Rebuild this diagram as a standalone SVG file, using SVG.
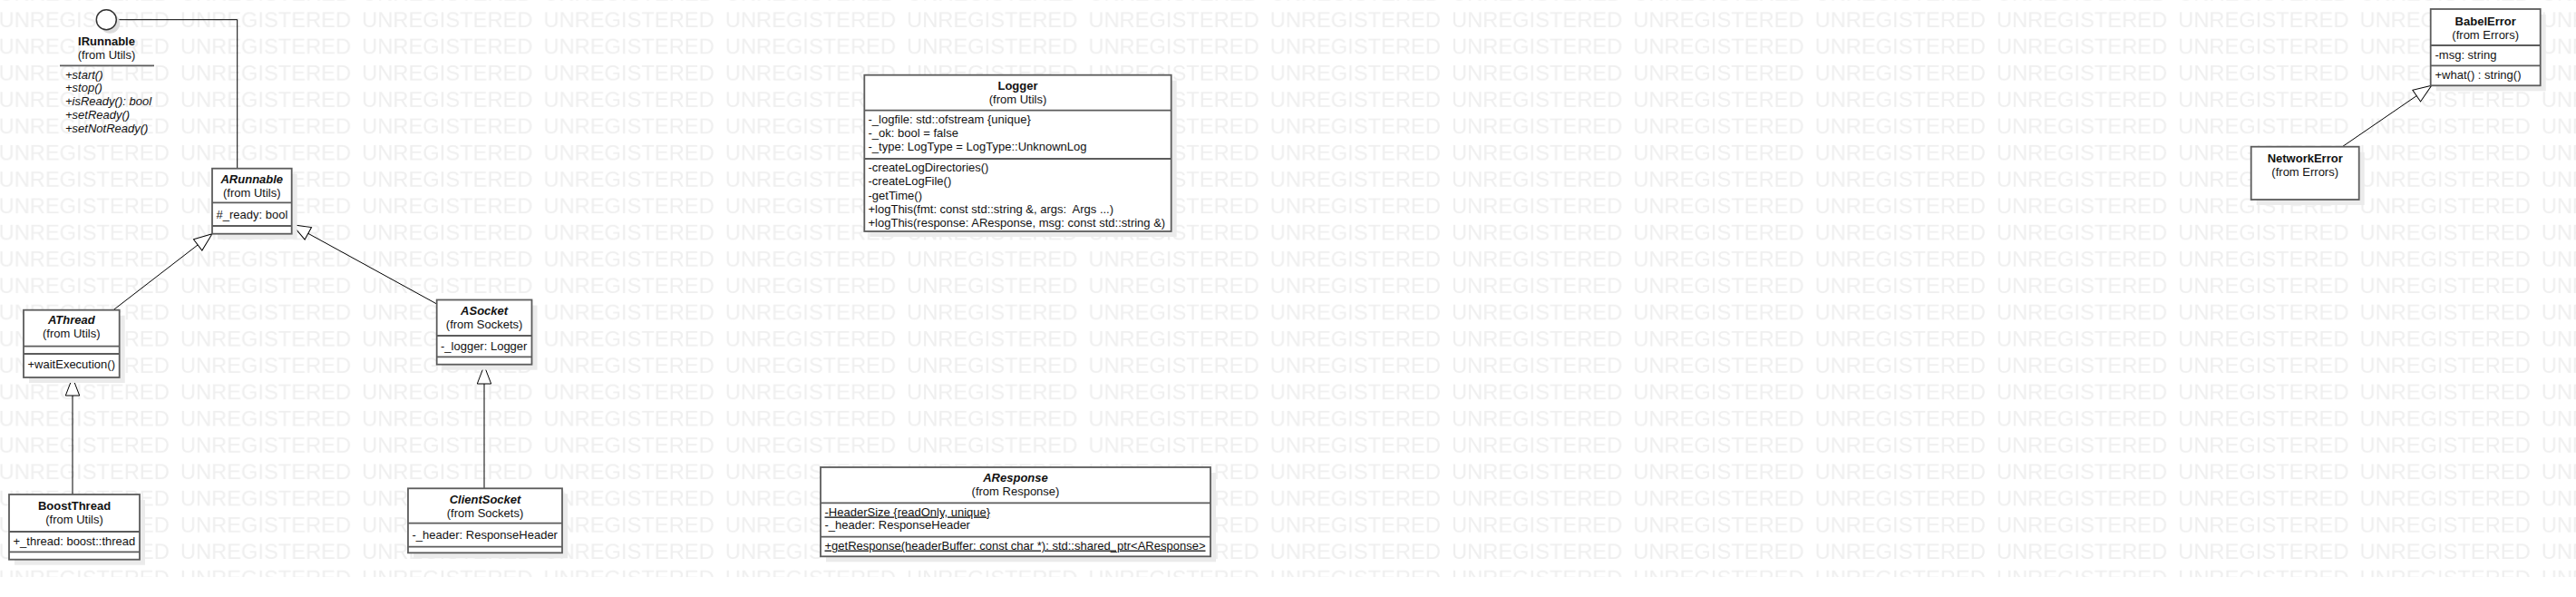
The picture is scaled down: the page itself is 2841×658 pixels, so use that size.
<svg xmlns="http://www.w3.org/2000/svg" width="2841" height="658" viewBox="0 0 2841 658">
<style>
.wm{font-family:"Liberation Sans",Arial,sans-serif;font-size:23.7px;fill:#efefef}
.sh{fill:#ebebeb}
.bx{fill:#fff;stroke:#5c5c5c;stroke-width:1.8}
.sep{stroke:#5c5c5c;stroke-width:1.8}
text.t{font-family:"Liberation Sans",Arial,sans-serif;font-size:13px;fill:#111}
.b{font-weight:bold}
.i{font-style:italic}
.c{text-anchor:middle}
.u{text-decoration:underline}
.e{fill:none;stroke:#000;stroke-width:1}
</style>
<defs>
<marker id="gen" markerUnits="userSpaceOnUse" markerWidth="24" markerHeight="20" refX="21" refY="10" orient="auto" overflow="visible">
<path d="M21,10 L1,2.3 L1,17.7 Z" fill="#fff" stroke="#000" stroke-width="1"/>
</marker>
<pattern id="wmp" patternUnits="userSpaceOnUse" x="-1.4" y="0.7" width="200.3" height="29.3">
<text class="wm" x="0" y="29.3">UNREGISTERED</text>
</pattern>
</defs>
<rect width="2841" height="658" fill="#fff"/>
<rect id="watermark" x="0" y="0" width="2841" height="636" fill="url(#wmp)"/>

<g id="connectors">
<path class="e" d="M128.3,21.7 H261.7 V185.7" stroke="#444" stroke-width="1.5"/>
<path class="e" d="M125,341.7 L234,257.7" marker-end="url(#gen)"/>
<path class="e" d="M481.7,335 L322.3,247.7" marker-end="url(#gen)"/>
<path class="e" d="M534,538.3 V403" marker-end="url(#gen)"/>
<path class="e" d="M80,545 V416" marker-end="url(#gen)"/>
<path class="e" d="M2583.3,161.7 L2681.7,94.3" marker-end="url(#gen)"/>
</g>

<g id="IRunnable">
<circle cx="121.3" cy="25.7" r="11" fill="#dcdcdc"/>
<circle cx="117.3" cy="21.7" r="11" fill="#fff" stroke="#333" stroke-width="1.5"/>
<text class="t b c" x="117.5" y="50">IRunnable</text>
<text class="t c" x="117.5" y="65">(from Utils)</text>
<line class="sep" x1="66" y1="72.3" x2="170" y2="72.3"/>
<text class="t i" x="72" y="86.6">+start()</text>
<text class="t i" x="72" y="101.4">+stop()</text>
<text class="t i" x="72" y="116.2">+isReady(): bool</text>
<text class="t i" x="72" y="131">+setReady()</text>
<text class="t i" x="72" y="145.8">+setNotReady()</text>
</g>

<g id="ARunnable">
<rect class="sh" x="240" y="191.7" width="87.7" height="72"/>
<rect class="bx" x="234" y="185.7" width="87.7" height="72"/>
<line class="sep" x1="234" y1="223.3" x2="321.7" y2="223.3"/>
<line class="sep" x1="234" y1="249" x2="321.7" y2="249"/>
<text class="t b i c" x="277.8" y="202.3">ARunnable</text>
<text class="t c" x="277.8" y="217.3">(from Utils)</text>
<text class="t" x="238.5" y="241">#_ready: bool</text>
</g>

<g id="AThread">
<rect class="sh" x="32" y="347.7" width="105.7" height="74.3"/>
<rect class="bx" x="26" y="341.7" width="105.7" height="74.3"/>
<line class="sep" x1="26" y1="381.7" x2="131.7" y2="381.7"/>
<line class="sep" x1="26" y1="390" x2="131.7" y2="390"/>
<text class="t b i c" x="78.8" y="357">AThread</text>
<text class="t c" x="78.8" y="372">(from Utils)</text>
<text class="t" x="30.5" y="406">+waitExecution()</text>
</g>

<g id="BoostThread">
<rect class="sh" x="16" y="551" width="144" height="71.7"/>
<rect class="bx" x="10" y="545" width="144" height="71.7"/>
<line class="sep" x1="10" y1="586" x2="154" y2="586"/>
<line class="sep" x1="10" y1="608.3" x2="154" y2="608.3"/>
<text class="t b c" x="82" y="562">BoostThread</text>
<text class="t c" x="82" y="577">(from Utils)</text>
<text class="t" x="14.5" y="601">+_thread: boost::thread</text>
</g>

<g id="ASocket">
<rect class="sh" x="487.7" y="336.5" width="104.8" height="71.2"/>
<rect class="bx" x="481.7" y="330.5" width="104.8" height="71.2"/>
<line class="sep" x1="481.7" y1="370" x2="586.5" y2="370"/>
<line class="sep" x1="481.7" y1="393.3" x2="586.5" y2="393.3"/>
<text class="t b i c" x="534.1" y="346.5">ASocket</text>
<text class="t c" x="534.1" y="362">(from Sockets)</text>
<text class="t" x="486" y="385.5">-_logger: Logger</text>
</g>

<g id="ClientSocket">
<rect class="sh" x="456" y="544.3" width="170" height="71"/>
<rect class="bx" x="450" y="538.3" width="170" height="71"/>
<line class="sep" x1="450" y1="576.7" x2="620" y2="576.7"/>
<line class="sep" x1="450" y1="602.7" x2="620" y2="602.7"/>
<text class="t b i c" x="535" y="555">ClientSocket</text>
<text class="t c" x="535" y="570">(from Sockets)</text>
<text class="t" x="454.5" y="593.5">-_header: ResponseHeader</text>
</g>

<g id="Logger">
<rect class="sh" x="959.3" y="88.7" width="338.4" height="172.3"/>
<rect class="bx" x="953.3" y="82.7" width="338.4" height="172.3"/>
<line class="sep" x1="953.3" y1="121.7" x2="1291.7" y2="121.7"/>
<line class="sep" x1="953.3" y1="175" x2="1291.7" y2="175"/>
<text class="t b c" x="1122.5" y="98.5">Logger</text>
<text class="t c" x="1122.5" y="113.5">(from Utils)</text>
<text class="t" x="957.5" y="135.8">-_logfile: std::ofstream {unique}</text>
<text class="t" x="957.5" y="150.9">-_ok: bool = false</text>
<text class="t" x="957.5" y="166">-_type: LogType = LogType::UnknownLog</text>
<text class="t" x="957.5" y="189.2">-createLogDirectories()</text>
<text class="t" x="957.5" y="204.4">-createLogFile()</text>
<text class="t" x="957.5" y="219.6">-getTime()</text>
<text class="t" x="957.5" y="234.8" xml:space="preserve">+logThis(fmt: const std::string &amp;, args:  Args ...)</text>
<text class="t" x="957.5" y="250">+logThis(response: AResponse, msg: const std::string &amp;)</text>
</g>

<g id="AResponse">
<rect class="sh" x="911" y="521" width="430" height="98.3"/>
<rect class="bx" x="905" y="515" width="430" height="98.3"/>
<line class="sep" x1="905" y1="554.3" x2="1335" y2="554.3"/>
<line class="sep" x1="905" y1="591.7" x2="1335" y2="591.7"/>
<text class="t b i c" x="1120" y="530.5">AResponse</text>
<text class="t c" x="1120" y="545.5">(from Response)</text>
<text class="t u" x="909.5" y="568.5">-HeaderSize {readOnly, unique}</text>
<text class="t" x="909.5" y="583">-_header: ResponseHeader</text>
<text class="t u" x="909.5" y="605.5">+getResponse(headerBuffer: const char *): std::shared_ptr&lt;AResponse&gt;</text>
</g>

<g id="BabelError">
<rect class="sh" x="2686.7" y="16" width="121" height="84.3"/>
<rect class="bx" x="2680.7" y="10" width="121" height="84.3"/>
<line class="sep" x1="2680.7" y1="50" x2="2801.7" y2="50"/>
<line class="sep" x1="2680.7" y1="72.3" x2="2801.7" y2="72.3"/>
<text class="t b c" x="2741.2" y="27.5">BabelError</text>
<text class="t c" x="2741.2" y="42.5">(from Errors)</text>
<text class="t" x="2685.5" y="64.5">-msg: string</text>
<text class="t" x="2685.5" y="87">+what() : string()</text>
</g>

<g id="NetworkError">
<rect class="sh" x="2488.7" y="167.7" width="119" height="58.3"/>
<rect class="bx" x="2482.7" y="161.7" width="119" height="58.3"/>
<text class="t b c" x="2542.2" y="178.5">NetworkError</text>
<text class="t c" x="2542.2" y="193.5">(from Errors)</text>
</g>
</svg>
